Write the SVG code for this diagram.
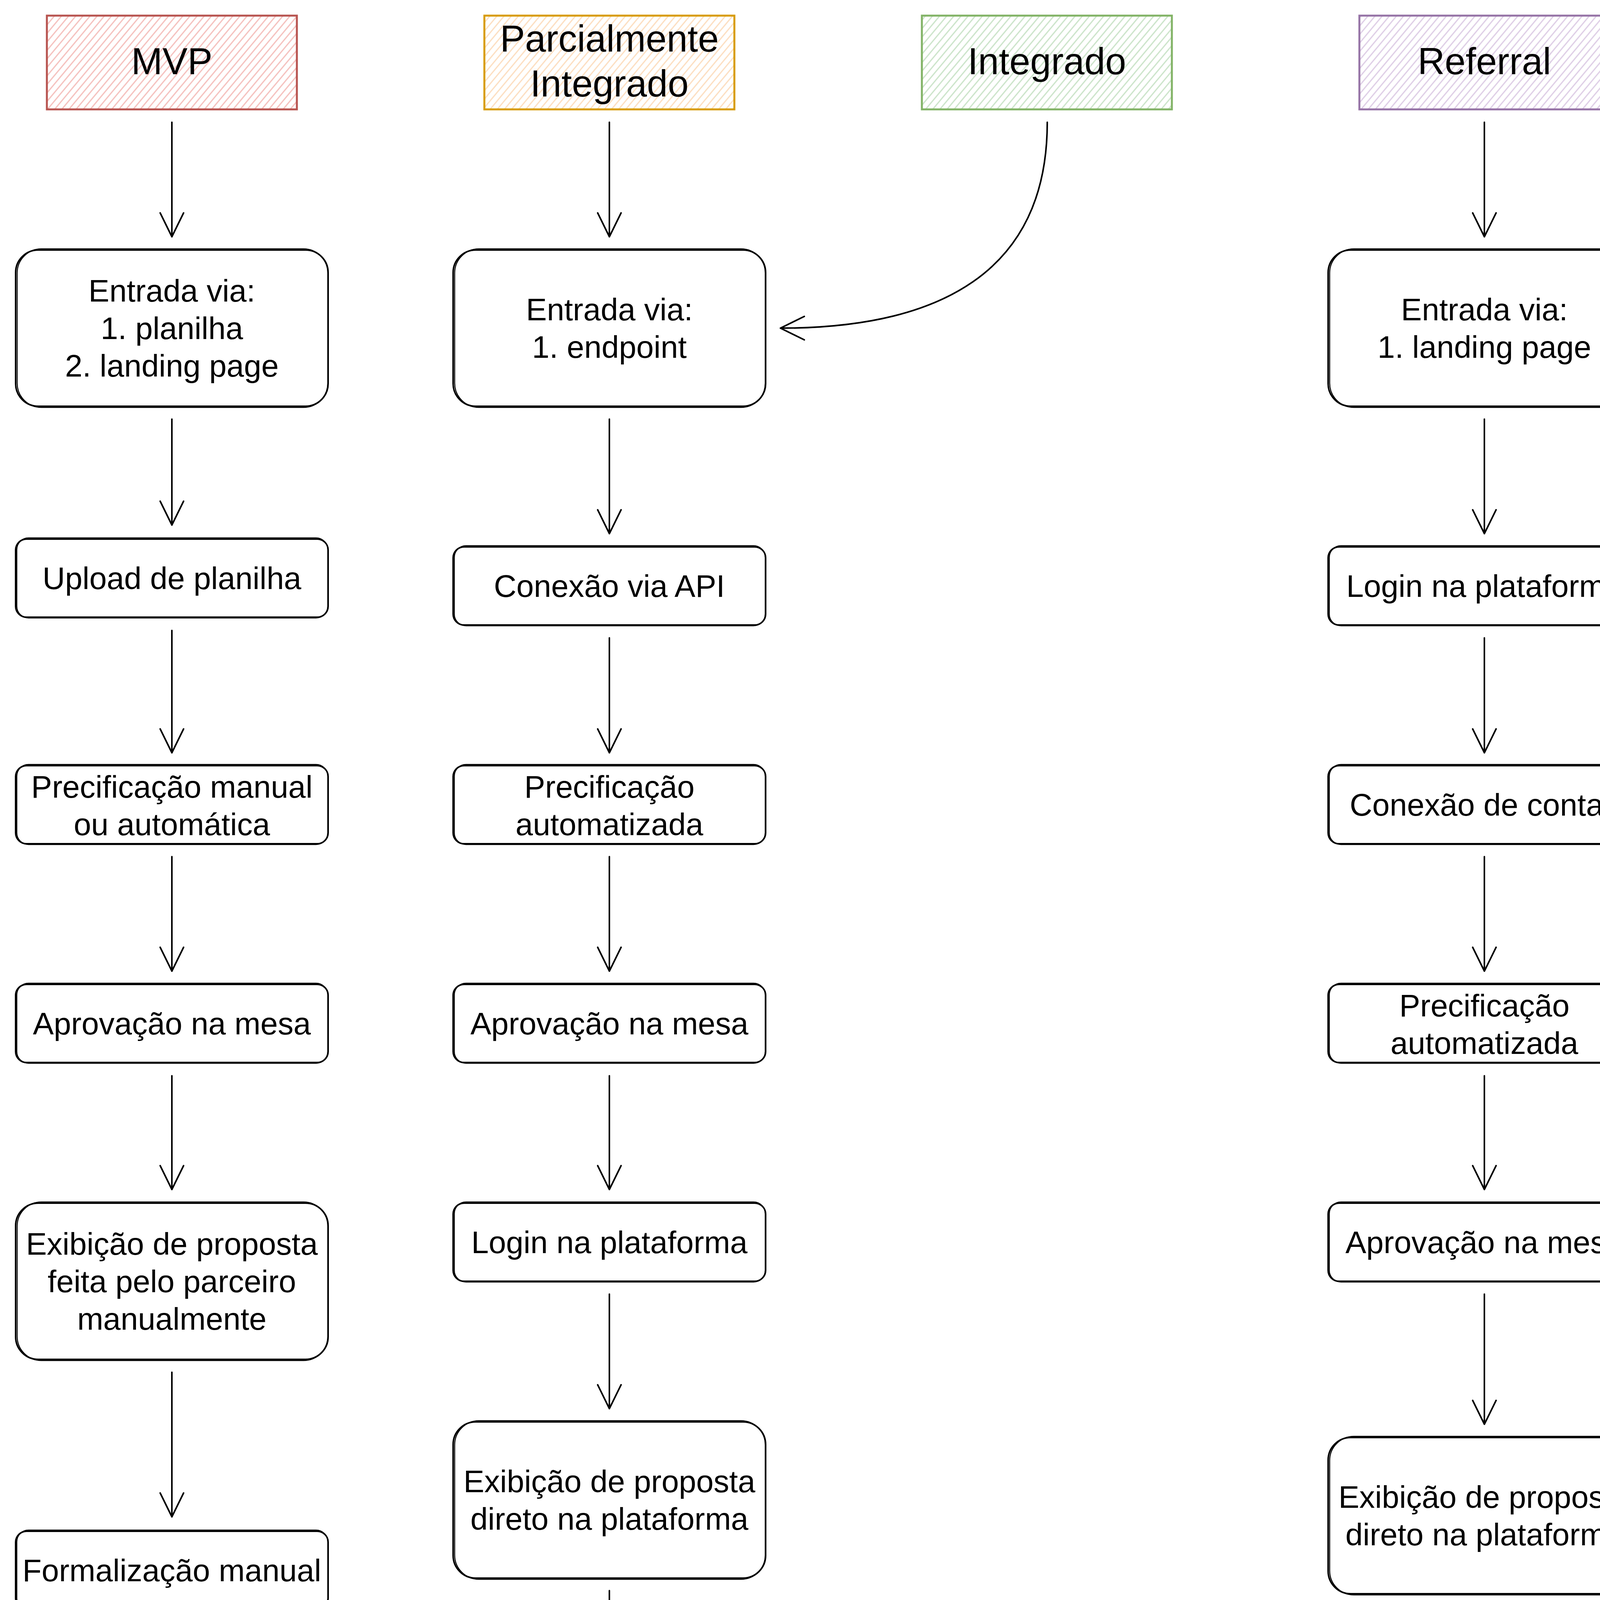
<svg xmlns="http://www.w3.org/2000/svg" width="4244" height="4724" viewBox="0 0 4244 4724">
  <style>
    .box { fill: #ffffff; stroke: #000000; stroke-width: 4; }
    .sk { fill: none; stroke: #000000; stroke-width: 2.5; }
    .t { font-family: "Liberation Sans", Arial, sans-serif; font-size: 80px; text-anchor: middle; fill: #000000; }
    .h { font-size: 96px; }
    .edge { fill: none; stroke: #000000; stroke-width: 4; stroke-linecap: round; marker-end: url(#arr); }
  </style>
  <defs>
    <marker id="arr" viewBox="-66 -36 72 72" refX="0" refY="0" markerWidth="72" markerHeight="72" markerUnits="userSpaceOnUse" orient="auto">
      <path d="M-61,-30 L0,0 L-61,30" fill="none" stroke="#000000" stroke-width="4" stroke-linecap="round" stroke-linejoin="round"/>
    </marker>
    <pattern id="hatchRed" patternUnits="userSpaceOnUse" width="14" height="14" patternTransform="rotate(40)">
      <line x1="7" y1="0" x2="7" y2="14" stroke="#f4bcb9" stroke-width="3"/>
    </pattern>
    <pattern id="hatchOrange" patternUnits="userSpaceOnUse" width="14" height="14" patternTransform="rotate(40)">
      <line x1="7" y1="0" x2="7" y2="14" stroke="#fcdcbc" stroke-width="3"/>
    </pattern>
    <pattern id="hatchGreen" patternUnits="userSpaceOnUse" width="14" height="14" patternTransform="rotate(40)">
      <line x1="7" y1="0" x2="7" y2="14" stroke="#c8e2c6" stroke-width="3"/>
    </pattern>
    <pattern id="hatchPurple" patternUnits="userSpaceOnUse" width="14" height="14" patternTransform="rotate(40)">
      <line x1="7" y1="0" x2="7" y2="14" stroke="#dccbe4" stroke-width="3"/>
    </pattern>
  </defs>

  <rect x="0" y="0" width="4244" height="4724" fill="#ffffff"/>

  <!-- Headers -->
  <g id="header-mvp">
    <rect x="120" y="40" width="640" height="240" fill="url(#hatchRed)" stroke="#b85450" stroke-width="5"/>
    <text class="t h" x="440" y="190">MVP</text>
  </g>
  <g id="header-parcialmente">
    <rect x="1240" y="40" width="640" height="240" fill="url(#hatchOrange)" stroke="#d79b00" stroke-width="5"/>
    <text class="t h" x="1560" y="132">Parcialmente</text>
    <text class="t h" x="1560" y="247">Integrado</text>
  </g>
  <g id="header-integrado">
    <rect x="2360" y="40" width="640" height="240" fill="url(#hatchGreen)" stroke="#82b366" stroke-width="5"/>
    <text class="t h" x="2680" y="190">Integrado</text>
  </g>
  <g id="header-referral">
    <rect x="3480" y="40" width="640" height="240" fill="url(#hatchPurple)" stroke="#9673a6" stroke-width="5"/>
    <text class="t h" x="3800" y="190">Referral</text>
  </g>

  <!-- MVP column -->
  <g id="mvp-entrada">
    <rect class="box" x="40" y="640" width="800" height="400" rx="58"/>
    <rect class="sk" x="44" y="637" width="795" height="406" rx="62"/>
    <text class="t" x="440" y="772">Entrada via:</text>
    <text class="t" x="440" y="868">1. planilha</text>
    <text class="t" x="440" y="964">2. landing page</text>
  </g>
  <g id="mvp-upload">
    <rect class="box" x="40" y="1380" width="800" height="200" rx="28"/>
    <rect class="sk" x="43" y="1377" width="796" height="205" rx="30"/>
    <text class="t" x="440" y="1508">Upload de planilha</text>
  </g>
  <g id="mvp-precificacao">
    <rect class="box" x="40" y="1960" width="800" height="200" rx="28"/>
    <rect class="sk" x="43" y="1957" width="796" height="205" rx="30"/>
    <text class="t" x="440" y="2042">Precificação manual</text>
    <text class="t" x="440" y="2138">ou automática</text>
  </g>
  <g id="mvp-aprovacao">
    <rect class="box" x="40" y="2520" width="800" height="200" rx="28"/>
    <rect class="sk" x="43" y="2517" width="796" height="205" rx="30"/>
    <text class="t" x="440" y="2648">Aprovação na mesa</text>
  </g>
  <g id="mvp-exibicao">
    <rect class="box" x="40" y="3080" width="800" height="400" rx="58"/>
    <rect class="sk" x="44" y="3077" width="795" height="406" rx="62"/>
    <text class="t" x="440" y="3212">Exibição de proposta</text>
    <text class="t" x="440" y="3308">feita pelo parceiro</text>
    <text class="t" x="440" y="3404">manualmente</text>
  </g>
  <g id="mvp-formalizacao">
    <rect class="box" x="40" y="3920" width="800" height="200" rx="28"/>
    <rect class="sk" x="43" y="3917" width="796" height="205" rx="30"/>
    <text class="t" x="440" y="4048">Formalização manual</text>
  </g>

  <!-- Parcialmente Integrado column -->
  <g id="parc-entrada">
    <rect class="box" x="1160" y="640" width="800" height="400" rx="58"/>
    <rect class="sk" x="1164" y="637" width="795" height="406" rx="62"/>
    <text class="t" x="1560" y="820">Entrada via:</text>
    <text class="t" x="1560" y="916">1. endpoint</text>
  </g>
  <g id="parc-conexao">
    <rect class="box" x="1160" y="1400" width="800" height="200" rx="28"/>
    <rect class="sk" x="1163" y="1397" width="796" height="205" rx="30"/>
    <text class="t" x="1560" y="1528">Conexão via API</text>
  </g>
  <g id="parc-precificacao">
    <rect class="box" x="1160" y="1960" width="800" height="200" rx="28"/>
    <rect class="sk" x="1163" y="1957" width="796" height="205" rx="30"/>
    <text class="t" x="1560" y="2042">Precificação</text>
    <text class="t" x="1560" y="2138">automatizada</text>
  </g>
  <g id="parc-aprovacao">
    <rect class="box" x="1160" y="2520" width="800" height="200" rx="28"/>
    <rect class="sk" x="1163" y="2517" width="796" height="205" rx="30"/>
    <text class="t" x="1560" y="2648">Aprovação na mesa</text>
  </g>
  <g id="parc-login">
    <rect class="box" x="1160" y="3080" width="800" height="200" rx="28"/>
    <rect class="sk" x="1163" y="3077" width="796" height="205" rx="30"/>
    <text class="t" x="1560" y="3208">Login na plataforma</text>
  </g>
  <g id="parc-exibicao">
    <rect class="box" x="1160" y="3640" width="800" height="400" rx="58"/>
    <rect class="sk" x="1164" y="3637" width="795" height="406" rx="62"/>
    <text class="t" x="1560" y="3820">Exibição de proposta</text>
    <text class="t" x="1560" y="3916">direto na plataforma</text>
  </g>
  <g id="parc-formalizacao">
    <rect class="box" x="1160" y="4440" width="800" height="200" rx="28"/>
    <rect class="sk" x="1163" y="4437" width="796" height="205" rx="30"/>
    <text class="t" x="1560" y="4568">Formalização manual</text>
  </g>

  <!-- Referral column -->
  <g id="ref-entrada">
    <rect class="box" x="3400" y="640" width="800" height="400" rx="58"/>
    <rect class="sk" x="3404" y="637" width="795" height="406" rx="62"/>
    <text class="t" x="3800" y="820">Entrada via:</text>
    <text class="t" x="3800" y="916">1. landing page</text>
  </g>
  <g id="ref-login">
    <rect class="box" x="3400" y="1400" width="800" height="200" rx="28"/>
    <rect class="sk" x="3403" y="1397" width="796" height="205" rx="30"/>
    <text class="t" x="3800" y="1528">Login na plataforma</text>
  </g>
  <g id="ref-conexao">
    <rect class="box" x="3400" y="1960" width="800" height="200" rx="28"/>
    <rect class="sk" x="3403" y="1957" width="796" height="205" rx="30"/>
    <text class="t" x="3800" y="2088">Conexão de contas</text>
  </g>
  <g id="ref-precificacao">
    <rect class="box" x="3400" y="2520" width="800" height="200" rx="28"/>
    <rect class="sk" x="3403" y="2517" width="796" height="205" rx="30"/>
    <text class="t" x="3800" y="2602">Precificação</text>
    <text class="t" x="3800" y="2698">automatizada</text>
  </g>
  <g id="ref-aprovacao">
    <rect class="box" x="3400" y="3080" width="800" height="200" rx="28"/>
    <rect class="sk" x="3403" y="3077" width="796" height="205" rx="30"/>
    <text class="t" x="3800" y="3208">Aprovação na mesa</text>
  </g>
  <g id="ref-exibicao">
    <rect class="box" x="3400" y="3680" width="800" height="400" rx="58"/>
    <rect class="sk" x="3404" y="3677" width="795" height="406" rx="62"/>
    <text class="t" x="3800" y="3860">Exibição de proposta</text>
    <text class="t" x="3800" y="3956">direto na plataforma</text>
  </g>
  <g id="ref-formalizacao">
    <rect class="box" x="3400" y="4480" width="800" height="200" rx="28"/>
    <rect class="sk" x="3403" y="4477" width="796" height="205" rx="30"/>
    <text class="t" x="3800" y="4608">Formalização manual</text>
  </g>

  <!-- Connectors -->
  <g id="connectors">
    <!-- MVP -->
    <path class="edge" d="M440,313 L440,606"/>
    <path class="edge" d="M440,1073 L440,1344"/>
    <path class="edge" d="M440,1614 L440,1927"/>
    <path class="edge" d="M440,2193 L440,2486"/>
    <path class="edge" d="M440,2754 L440,3045"/>
    <path class="edge" d="M440,3513 L440,3883"/>
    <!-- Parcialmente -->
    <path class="edge" d="M1560,313 L1560,606"/>
    <path class="edge" d="M1560,1073 L1560,1366"/>
    <path class="edge" d="M1560,1633 L1560,1927"/>
    <path class="edge" d="M1560,2193 L1560,2486"/>
    <path class="edge" d="M1560,2754 L1560,3045"/>
    <path class="edge" d="M1560,3313 L1560,3606"/>
    <path class="edge" d="M1560,4072 L1560,4403"/>
    <!-- Integrado -->
    <path class="edge" d="M2681,313 C2681,700 2400,840 1998,840"/>
    <!-- Referral -->
    <path class="edge" d="M3800,313 L3800,606"/>
    <path class="edge" d="M3800,1073 L3800,1366"/>
    <path class="edge" d="M3800,1633 L3800,1927"/>
    <path class="edge" d="M3800,2193 L3800,2486"/>
    <path class="edge" d="M3800,2754 L3800,3045"/>
    <path class="edge" d="M3800,3313 L3800,3646"/>
    <path class="edge" d="M3800,4113 L3800,4446"/>
  </g>
</svg>
